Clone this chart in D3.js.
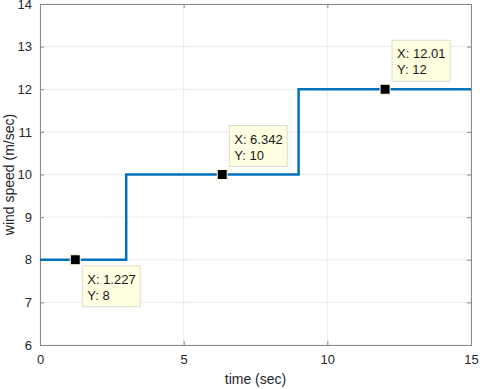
<!DOCTYPE html>
<html>
<head>
<meta charset="utf-8">
<script src="https://cdn.jsdelivr.net/npm/d3@7"></script>
<style>
  body { margin: 0; background: #fff; }
  text { font-family: "Liberation Sans", Arial, sans-serif; }
</style>
</head>
<body>
<div id="chart"></div>
<script>
// step data (time in sec, wind speed in m/sec)
var stepTimes = [0, 3, 3, 9, 9, 15];
var stepSpeeds = [8, 8, 10, 10, 12, 12];
var xTicks = [0, 5, 10, 15];
var yTicks = [6, 7, 8, 9, 10, 11, 12, 13, 14];
// data tips
var tipX = [1.227, 6.342, 12.01];
var tipY = [8, 10, 12];
var tipLabelX = ["1.227", "6.342", "12.01"];
var tipPlace = ["below", "above", "above"];

var W = 480, H = 389;
var margin = {top: 4, right: 9, bottom: 44, left: 40};
var width = W - margin.left - margin.right,
    height = H - margin.top - margin.bottom;

var svg = d3.select("#chart").append("svg")
    .attr("width", W).attr("height", H);
var g = svg.append("g")
    .attr("transform", "translate(" + margin.left + "," + margin.top + ")");

var x = d3.scaleLinear().domain([0, 15]).range([0, width]);
var y = d3.scaleLinear().domain([6, 14]).range([height, 0]);

// grid
g.selectAll(".gx").data(xTicks).enter().append("line")
    .attr("x1", function(d) { return x(d); }).attr("x2", function(d) { return x(d); })
    .attr("y1", 0).attr("y2", height)
    .attr("stroke", "#ebebeb").attr("stroke-width", 1);
g.selectAll(".gy").data(yTicks).enter().append("line")
    .attr("y1", function(d) { return y(d); }).attr("y2", function(d) { return y(d); })
    .attr("x1", 0).attr("x2", width)
    .attr("stroke", "#ebebeb").attr("stroke-width", 1);

// axes
var xAxis = g.append("g").attr("transform", "translate(0," + height + ")")
    .call(d3.axisBottom(x).tickValues(xTicks).tickSize(-4).tickPadding(10));
var xAxisTop = g.append("g")
    .call(d3.axisTop(x).tickValues(xTicks).tickSize(-4).tickFormat(""));
var yAxis = g.append("g")
    .call(d3.axisLeft(y).tickValues(yTicks).tickSize(-4).tickPadding(8));
var yAxisRight = g.append("g").attr("transform", "translate(" + width + ",0)")
    .call(d3.axisRight(y).tickValues(yTicks).tickSize(-4).tickFormat(""));

[xAxis, xAxisTop, yAxis, yAxisRight].forEach(function(a) {
    a.select(".domain").attr("stroke", "#8a8a8a");
    a.selectAll(".tick line").attr("stroke", "#8a8a8a");
    a.selectAll("text").attr("fill", "#262626").style("font-size", "13px")
        .style("font-family", "Liberation Sans, Arial, sans-serif");
});

// line
var line = d3.line()
    .x(function(d, i) { return x(stepTimes[i]); })
    .y(function(d, i) { return y(stepSpeeds[i]); });
g.append("path").datum(stepTimes)
    .attr("d", line)
    .attr("fill", "none")
    .attr("stroke", "#0072BD")
    .attr("stroke-width", 2.5);

// data tips
tipX.forEach(function(tx, i) {
    var px = x(tx), py = y(tipY[i]);
    var bw = tipLabelX[i].length > 4 ? 58 : 58, bh = 41;
    var bx = px + 7;
    var by = tipPlace[i] === "below" ? py + 6 : py - 8 - bh;
    g.append("rect")
        .attr("x", bx).attr("y", by).attr("width", bw).attr("height", bh)
        .attr("fill", "#ffffe1").attr("stroke", "#dcdcd0").attr("stroke-width", 1);
    g.append("text").attr("x", bx + 5).attr("y", by + 18)
        .attr("fill", "#1a1a1a").style("font-size", "13px").text("X: " + tipLabelX[i]);
    g.append("text").attr("x", bx + 5).attr("y", by + 34)
        .attr("fill", "#1a1a1a").style("font-size", "13px").text("Y: " + tipY[i]);
    g.append("rect")
        .attr("x", px - 5).attr("y", py - 5).attr("width", 10).attr("height", 10)
        .attr("fill", "#000").attr("stroke", "#ffffe1").attr("stroke-width", 1);
});

// labels
svg.append("text")
    .attr("x", margin.left + width / 2).attr("y", 384)
    .attr("text-anchor", "middle").attr("fill", "#262626")
    .style("font-size", "14px").text("time (sec)");
svg.append("text")
    .attr("transform", "translate(14," + (margin.top + height / 2) + ") rotate(-90)")
    .attr("text-anchor", "middle").attr("fill", "#262626")
    .style("font-size", "14px").text("wind speed (m/sec)");
</script>
</body>
</html>
